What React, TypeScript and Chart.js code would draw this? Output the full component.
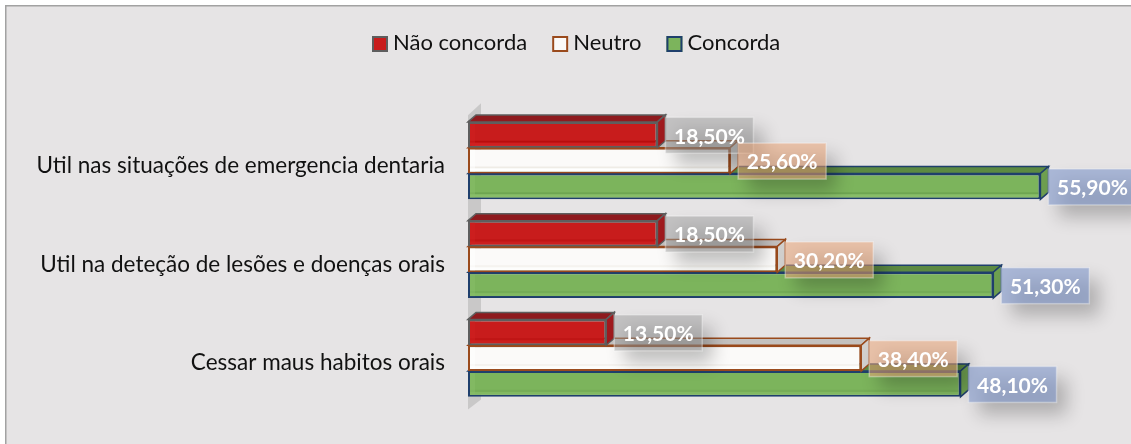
import React, { useEffect, useRef } from "react";
import { Chart, registerables } from "chart.js";

Chart.register(...registerables);

const categories = [
  "Util nas situações de emergencia dentaria",
  "Util na deteção de lesões e doenças orais",
  "Cessar maus habitos orais",
];
const naoConcorda = [18.5, 18.5, 13.5];
const neutro = [25.6, 30.2, 38.4];
const concorda = [55.9, 51.3, 48.1];

const FONT = "Lato, 'Open Sans', sans-serif";
const DX = 8;
const DY = 7;

const styles = [
  {
    top: "#8e1a1e", side: "#a01a1e", line: "#5e5e5e",
    bevelDark: "#b80d0d", bevelLight: "#d02020",
    labelFill: "rgba(160,160,160,0.5)",
  },
  {
    top: "#c4c1bf", side: "#d2d0ce", line: "#9a4a1c",
    bevelDark: "#efece6", bevelLight: "#ffffff",
    labelFill: "rgba(235,165,120,0.55)",
  },
  {
    top: "#5c8a42", side: "#6e9f50", line: "#1f3f6c",
    bevelDark: "#6ea552", bevelLight: "#88bd68",
    labelFill: "rgba(132,155,205,0.62)",
  },
];

function poly(ctx: CanvasRenderingContext2D, pts: number[][], fill: string, stroke?: string) {
  ctx.beginPath();
  pts.forEach((p, i) => (i ? ctx.lineTo(p[0], p[1]) : ctx.moveTo(p[0], p[1])));
  ctx.closePath();
  ctx.fillStyle = fill;
  ctx.fill();
  if (stroke) {
    ctx.strokeStyle = stroke;
    ctx.lineWidth = 1.5;
    ctx.stroke();
  }
}

const frame = {
  id: "frame",
  beforeDraw(chart: any) {
    const { ctx, width, height } = chart;
    ctx.save();
    ctx.fillStyle = "#ffffff";
    ctx.fillRect(0, 0, width, height);
    ctx.fillStyle = "#e6e4e5";
    ctx.fillRect(5, 5, width - 5, height - 5);
    ctx.fillStyle = "#a2a2a2";
    ctx.fillRect(5, 5, width - 5, 1.5);
    ctx.fillRect(5, 5, 1.5, height - 5);
    ctx.restore();
  },
};

const wall = {
  id: "wall",
  beforeDatasetsDraw(chart: any) {
    const { ctx, chartArea: a } = chart;
    ctx.save();
    poly(ctx, [
      [a.left, a.top + 4],
      [a.left + 13, a.top - 8],
      [a.left + 13, a.bottom - 8],
      [a.left, a.bottom + 2],
    ], "#c9c8c8");
    ctx.restore();
  },
};

const depth = {
  id: "depth",
  beforeDatasetDraw(chart: any, args: any) {
    const { ctx } = chart;
    const s = styles[args.index];
    ctx.save();
    chart.getDatasetMeta(args.index).data.forEach((b: any) => {
      const x0 = b.base, x1 = b.x, y0 = b.y - b.height / 2, y1 = b.y + b.height / 2;
      poly(ctx, [[x0, y0], [x0 + DX, y0 - DY], [x1 + DX, y0 - DY], [x1, y0]], s.top, s.line);
      poly(ctx, [[x1, y0], [x1 + DX, y0 - DY], [x1 + DX, y1 - DY], [x1, y1]], s.side, s.line);
    });
    ctx.restore();
  },
  afterDatasetDraw(chart: any, args: any) {
    const { ctx } = chart;
    const s = styles[args.index];
    ctx.save();
    chart.getDatasetMeta(args.index).data.forEach((b: any) => {
      const x0 = b.base + 2, x1 = b.x - 2, y0 = b.y - b.height / 2 + 2, y1 = b.y + b.height / 2 - 2;
      ctx.fillStyle = s.bevelDark;
      ctx.fillRect(x0, y1 - 5, x1 - x0, 2);
      ctx.fillStyle = s.bevelLight;
      ctx.fillRect(x0, y1 - 3, x1 - x0, 3);
      ctx.globalAlpha = 0.5;
      ctx.fillRect(x0, y0, 5, y1 - y0);
    });
    ctx.restore();
  },
};

const valueLabels = {
  id: "valueLabels",
  afterDatasetsDraw(chart: any) {
    const { ctx } = chart;
    const w = 88, h = 36;
    ctx.save();
    chart.data.datasets.forEach((ds: any, i: number) => {
      chart.getDatasetMeta(i).data.forEach((b: any, j: number) => {
        const x = b.x + 8, y = b.y - h / 2 + 0.5;
        ctx.save();
        ctx.shadowColor = "rgba(0,0,0,0.24)";
        ctx.shadowBlur = 18;
        ctx.shadowOffsetX = 5000 + 10;
        ctx.shadowOffsetY = 12;
        ctx.fillStyle = "#000";
        ctx.fillRect(x - 5000, y, w, h);
        ctx.restore();
        ctx.fillStyle = styles[i].labelFill;
        ctx.fillRect(x, y, w, h);
        ctx.strokeStyle = "rgba(255,255,255,0.35)";
        ctx.lineWidth = 1.5;
        ctx.strokeRect(x, y, w, h);
        ctx.fillStyle = "#ffffff";
        ctx.font = `bold 21px ${FONT}`;
        ctx.textAlign = "center";
        ctx.textBaseline = "middle";
        ctx.fillText(ds.data[j].toFixed(2).replace(".", ",") + "%", x + w / 2, b.y + 2);
      });
    });
    ctx.restore();
  },
};

const legendRow = {
  id: "legendRow",
  afterDraw(chart: any) {
    const { ctx } = chart;
    let x = 372;
    const top = 36;
    ctx.save();
    ctx.font = `22px ${FONT}`;
    ctx.textBaseline = "middle";
    ctx.textAlign = "left";
    chart.data.datasets.forEach((ds: any) => {
      ctx.fillStyle = ds.backgroundColor;
      ctx.fillRect(x, top, 16, 16);
      ctx.strokeStyle = ds.borderColor;
      ctx.lineWidth = 2;
      ctx.strokeRect(x + 1, top + 1, 14, 14);
      ctx.fillStyle = "#111111";
      ctx.fillText(ds.label, x + 21, top + 7);
      x += 21 + ctx.measureText(ds.label).width + 25;
    });
    ctx.restore();
  },
};

export default function App() {
  const ref = useRef<HTMLCanvasElement>(null);
  useEffect(() => {
    const chart = new Chart(ref.current!, {
      type: "bar",
      data: {
        labels: categories,
        datasets: [
          { label: "Não concorda", data: naoConcorda, backgroundColor: "#c81c1c", borderColor: styles[0].line },
          { label: "Neutro", data: neutro, backgroundColor: "#fbfaf9", borderColor: styles[1].line },
          { label: "Concorda", data: concorda, backgroundColor: "#7cb45c", borderColor: styles[2].line },
        ].map((d) => ({ ...d, borderWidth: 2, borderSkipped: false, categoryPercentage: 0.784, barPercentage: 1 })),
      },
      options: {
        indexAxis: "y",
        animation: false,
        responsive: false,
        layout: { padding: { left: 6, right: 48.6, top: 111.25, bottom: 34.25 } },
        plugins: { legend: { display: false }, title: { display: false }, tooltip: { enabled: false } },
        scales: {
          x: { display: false, min: 0, max: 60 },
          y: {
            afterFit: (s: any) => { s.width = 462; },
            border: { display: false },
            grid: { display: false, drawTicks: false },
            ticks: { color: "#111111", padding: 23, labelOffset: 5, autoSkip: false, font: { family: FONT, size: 22.5 } },
          },
        },
      } as any,
      plugins: [frame, wall, depth, valueLabels, legendRow],
    } as any);
    return () => chart.destroy();
  }, []);
  return (
    <div style={{ position: "absolute", left: 0, top: 0, width: 1131, height: 444 }}>
      <canvas ref={ref} width={1131} height={444} style={{ display: "block" }} />
    </div>
  );
}
